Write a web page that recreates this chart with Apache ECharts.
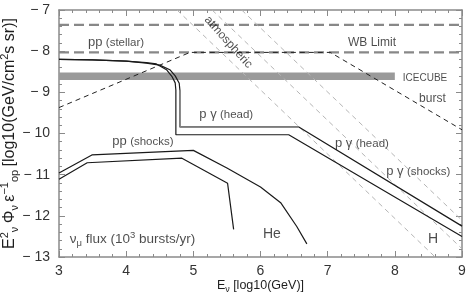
<!DOCTYPE html>
<html><head><meta charset="utf-8">
<script src="https://cdn.jsdelivr.net/npm/echarts@6/dist/echarts.min.js"></script>
<style>html,body{margin:0;padding:0;background:#fff}#c{width:471px;height:295px}</style>
</head><body><div id="c"></div>
<script>
// ---- data (log10 E [GeV], log10 flux) ----
const xTicks = [3,4,5,6,7,8,9];
const yTicks = [-13,-12,-11,-10,-9,-8,-7];
const wbUpper = [[3,-7.36],[9,-7.36]];
const wbLower = [[3,-8.03],[9,-8.03]];
const icecube = [[3,-8.61],[8,-8.61]];
const burst = [[3,-9.37],[4.95,-8.03],[7.04,-8.03],[9,-9.91]];
const atm1 = [[4.757,-7],[8.60,-13]];
const atm2 = [[5.28,-7],[9,-12.80]];
const atm3 = [[5.72,-7],[9,-12.11]];
const pgHeadOuter = [[3,-8.20],[3.5,-8.21],[4.0,-8.24],[4.3,-8.29],[4.5,-8.34],[4.65,-8.45],[4.73,-8.6],[4.79,-8.78],[4.80,-8.95],[4.80,-9.84],[6.57,-9.84],[9,-12.25]];
const pgHeadGray = [[4.80,-8.95],[4.80,-9.84],[6.57,-9.84]];
const pgInner = [[3,-8.20],[3.5,-8.21],[4.0,-8.24],[4.3,-8.28],[4.45,-8.31],[4.6,-8.45],[4.68,-8.61],[4.73,-8.77],[4.74,-8.95],[4.74,-10.03],[6.42,-10.03],[9,-12.50]];
const ppShocksHe = [[3,-10.96],[3.49,-10.52],[5.0,-10.41],[5.5,-10.84],[6.0,-11.3],[6.3,-11.68],[6.54,-12.26],[6.69,-12.68]];
const ppShocksH = [[3,-11.11],[3.42,-10.71],[4.83,-10.60],[5.51,-11.21],[5.60,-12.33]];
// annotation labels: [x, y, text]
const labels = [
  [3.85,-7.79,'{a|pp} {b|(stellar)}'],
  [7.66,-7.79,'{w|WB Limit}'],
  [8.45,-8.66,'{s|ICECUBE}'],
  [8.56,-9.15,'{w|burst}'],
  [5.49,-9.54,'{a|p γ} {b|(head)}'],
  [7.51,-10.25,'{a|p γ} {b|(head)}'],
  [8.35,-10.93,'{a|p γ} {b|(shocks)}'],
  [4.25,-10.20,'{a|pp} {b|(shocks)}'],
  [6.17,-12.44,'{h|He}'],
  [8.57,-12.56,'{h|H}']
];
const fluxLabel = [3.16,-12.56];
const atmLabel = [5.52,-7.78];

const FONT = '"Liberation Sans", Arial, sans-serif';
const TC = '#1e1e1e';
const rich = {
  a:{fontSize:13,fontFamily:FONT,color:TC},
  b:{fontSize:11.5,fontFamily:FONT,color:TC},
  w:{fontSize:12,fontFamily:FONT,color:TC},
  s:{fontSize:10,fontFamily:FONT,color:TC},
  h:{fontSize:14,fontFamily:FONT,color:TC},
  n:{fontSize:13.5,fontFamily:FONT,color:TC},
  sub:{fontSize:9.5,fontFamily:FONT,color:TC,verticalAlign:'bottom',lineHeight:18},
  sup:{fontSize:9.5,fontFamily:FONT,color:TC,verticalAlign:'top',lineHeight:18}
};
const richX = {
  n:{fontSize:12.5,fontFamily:FONT,color:TC},
  sub:{fontSize:9,fontFamily:FONT,color:TC,verticalAlign:'bottom',lineHeight:17}
};
const richY = {
  n:{fontSize:16,fontFamily:FONT,color:TC},
  sub:{fontSize:11,fontFamily:FONT,color:TC,verticalAlign:'bottom',lineHeight:21},
  sup:{fontSize:11,fontFamily:FONT,color:TC,verticalAlign:'top',lineHeight:21}
};

function line(data, color, width, dash, z){
  return {type:'line', data, symbol:'none', silent:true, z:z||2, animation:false,
    lineStyle:{color, width, type: dash||'solid', cap:'butt'}};
}
const frameColor = '#8a8a8a';
const chart = echarts.init(document.getElementById('c'), null, {renderer:'canvas'});
const axBase = {
  min:3,max:9,interval:1,
  axisLine:{show:true,lineStyle:{color:frameColor,width:1.5}},
  axisTick:{show:true,inside:true,length:6,lineStyle:{color:frameColor}},
  minorTick:{show:true,splitNumber:5,length:3,lineStyle:{color:frameColor}},
  splitLine:{show:false}
};
const yBase = Object.assign({}, axBase, {min:-13,max:-7,interval:1});
chart.setOption({
  animation:false,
  grid:{left:59,right:9,top:10,bottom:38,containLabel:false,outerBoundsMode:'none'},
  xAxis:[
    Object.assign({}, axBase, {type:'value',position:'bottom',
      axisLabel:{show:true,margin:7,fontSize:14,color:'#333',fontFamily:FONT,
        formatter:v=> xTicks.includes(v)? String(v):''},
      name:'{n|E}{sub|ν} {n|[log10(GeV)]}', nameLocation:'middle', nameGap:20,
      nameMoveOverlap:false,
      nameTextStyle:{rich:richX}}),
    Object.assign({}, axBase, {type:'value',position:'top',axisLabel:{show:false}})
  ],
  yAxis:[
    Object.assign({}, yBase, {type:'value',position:'left',
      axisLabel:{show:true,margin:9,fontSize:14,color:'#333',fontFamily:FONT,
        formatter:v=> yTicks.includes(v)? ('− '+Math.abs(v)):''},
      name:'{n|E}{sup|2}{sub|ν} {n|Φ}{sub|ν} {n|ε}{sup|−1}{sub|op} {n|[log10(GeV/cm}{sup|2}{n|s sr)]}',
      nameLocation:'middle', nameRotate:90, nameGap:39, nameMoveOverlap:false,
      nameTextStyle:{rich:richY}}),
    Object.assign({}, yBase, {type:'value',position:'right',axisLabel:{show:false}})
  ],
  series:[
    line(icecube,'#9a9a9a',7.5,'solid',1),
    line(wbUpper,'#888',2.3,[10,5],2),
    line(wbLower,'#888',2.3,[10,5],2),
    line(atm1,'#b5b5b5',1,[5,4],2),
    line(atm2,'#b5b5b5',1,[5,4],2),
    line(atm3,'#b5b5b5',1,[5,4],2),
    line(burst,'#222',1,[5,4],3),
    line(pgInner,'#1a1a1a',1.2,'solid',4),
    line(pgHeadOuter,'#1a1a1a',1.2,'solid',4),
    line(pgHeadGray,'#8a8a8a',1.3,'solid',5),
    line(ppShocksHe,'#1a1a1a',1.2,'solid',4),
    line(ppShocksH,'#1a1a1a',1.2,'solid',4),
    {type:'scatter', symbolSize:0, silent:true, z:6, animation:false,
      data: labels.map(l=>({value:[l[0],l[1]], label:{show:true,position:'inside',formatter:l[2],rich}}))},
    {type:'scatter', symbolSize:0, silent:true, z:6, animation:false,
      data:[{value:fluxLabel,label:{show:true,position:'right',distance:0,
        formatter:'{n|ν}{sub|μ}{n| flux (10}{sup|3}{n| bursts/yr)}',rich}}]},
    {type:'scatter', symbolSize:0, silent:true, z:6, animation:false,
      data:[{value:atmLabel,label:{show:true,position:'inside',rotate:-48,
        formatter:'{w|atmospheric}',rich:{w:{fontSize:12,fontFamily:FONT,color:TC}}}}]}
  ]
});
</script></body></html>
